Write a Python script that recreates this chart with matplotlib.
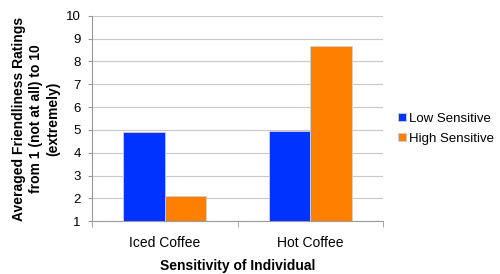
import numpy as np
import matplotlib
matplotlib.use("Agg")
import matplotlib.pyplot as plt

CATEGORIES = ["Iced Coffee", "Hot Coffee"]
SERIES = ["Low Sensitive", "High Sensitive"]
LOW = [4.9, 4.95]
HIGH = [2.1, 8.7]
COLORS = ["#0033FF", "#FF7F00"]

plt.rcParams["font.family"] = ["Liberation Sans", "DejaVu Sans"]

fig = plt.figure(figsize=(5.0, 2.74), dpi=100)
ax = fig.add_axes([0.184, 0.193, 0.582, 0.749])

x = np.arange(len(CATEGORIES))
w = 0.285
ax.bar(x - w / 2, LOW, w, bottom=0, color=COLORS[0], edgecolor="#d0d0d0",
       linewidth=0.6, label=SERIES[0], zorder=3)
ax.bar(x + w / 2, HIGH, w, bottom=0, color=COLORS[1], edgecolor="#d0d0d0",
       linewidth=0.6, label=SERIES[1], zorder=3)

ax.set_xlim(-0.5, 1.5)
ax.set_ylim(1, 10)
ax.set_yticks(range(1, 11))
ax.tick_params(axis="y", labelsize=9.5, length=3, color="#999999", pad=5)
ax.set_xticks(x)
ax.set_xticklabels(CATEGORIES)
ax.tick_params(axis="x", which="major", length=0, labelsize=10, pad=11)
ax.set_xticks([-0.5, 0.5, 1.5], minor=True)
ax.tick_params(axis="x", which="minor", length=4, color="#999999")

ax.grid(axis="y", color="#c8c8c8", linewidth=0.8, zorder=0)
for s in ["top", "right"]:
    ax.spines[s].set_visible(False)
for s in ["left", "bottom"]:
    ax.spines[s].set_color("#999999")
    ax.spines[s].set_linewidth(0.8)

ax.set_ylabel("Averaged Friendliness Ratings\nfrom 1 (not at all) to 10\n(extremely)",
              fontsize=10, fontweight="bold", linespacing=1.3, labelpad=4)
ax.set_xlabel("Sensitivity of Individual", fontsize=10, fontweight="bold", labelpad=6)

handles, labels = ax.get_legend_handles_labels()
fig.legend(handles, labels, loc="center left", bbox_to_anchor=(0.782, 0.53),
           frameon=False, fontsize=9.5, handlelength=0.6, handleheight=0.6,
           handletextpad=0.3, labelspacing=0.6, borderpad=0)

fig.savefig("out.png", dpi=100)
